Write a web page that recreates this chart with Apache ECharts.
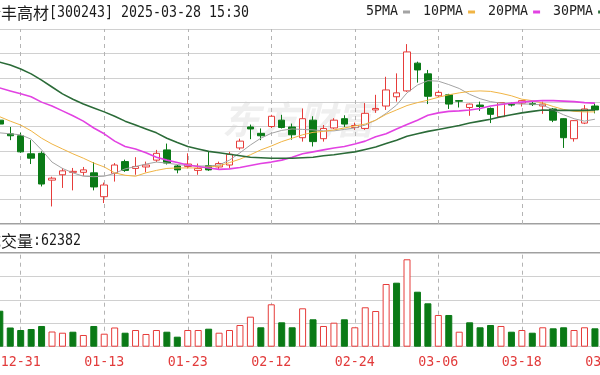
<!DOCTYPE html>
<html><head><meta charset="utf-8">
<script src="https://cdn.jsdelivr.net/npm/echarts@6/dist/echarts.min.js"></script>
<style>html,body{margin:0;padding:0;background:#fff;overflow:hidden}#c{width:600px;height:375px}</style>
</head><body><div id="c"></div>
<script>
const dates = ["12-27","12-30","12-31","01-02","01-03","01-06","01-07","01-08","01-09","01-10","01-13","01-14","01-15","01-16","01-17","01-20","01-21","01-22","01-23","01-24","01-27","02-05","02-06","02-07","02-10","02-11","02-12","02-13","02-14","02-17","02-18","02-19","02-20","02-21","02-24","02-25","02-26","02-27","02-28","03-03","03-04","03-05","03-06","03-07","03-10","03-11","03-12","03-13","03-14","03-17","03-18","03-19","03-20","03-21","03-24","03-25","03-26","03-27","03-28"];

// [open, close, low, high]
const candles = [
[11.13,11.05,10.99,11.20],[10.85,10.81,10.72,10.99],[10.81,10.48,10.46,10.87],[10.44,10.35,10.23,10.72],
[10.45,9.82,9.77,10.49],[9.90,9.94,9.36,9.97],[10.01,10.09,9.74,10.15],[10.06,10.08,9.69,10.15],
[10.06,10.11,9.99,10.17],[10.05,9.76,9.69,10.27],[9.56,9.80,9.43,9.85],[10.04,10.21,9.87,10.25],
[10.28,10.10,10.07,10.32],[10.14,10.18,10.01,10.37],[10.17,10.21,10.06,10.28],[10.31,10.45,10.27,10.52],
[10.52,10.25,10.22,10.65],[10.19,10.11,10.04,10.21],[10.18,10.23,10.14,10.45],[10.10,10.14,10.01,10.24],
[10.20,10.11,10.09,10.49],[10.17,10.24,10.11,10.28],[10.21,10.43,10.15,10.48],[10.56,10.70,10.52,10.75],
[10.99,10.95,10.74,11.04],[10.86,10.81,10.72,10.96],[11.00,11.21,10.97,11.24],[11.13,10.98,10.96,11.24],
[10.99,10.83,10.73,11.06],[10.77,11.16,10.69,11.37],[11.13,10.69,10.59,11.21],[10.75,10.96,10.69,11.03],
[10.97,11.13,10.95,11.17],[11.16,11.05,10.99,11.23],[10.98,11.02,10.93,11.08],[10.96,11.27,10.93,11.48],
[11.34,11.37,11.28,11.65],[11.42,11.75,11.34,12.02],[11.61,11.69,11.51,12.09],[11.73,12.53,11.71,12.69],
[12.30,12.16,11.90,12.33],[12.08,11.62,11.46,12.16],[11.63,11.70,11.60,11.74],[11.65,11.46,11.36,11.67],
[11.53,11.52,11.39,11.54],[11.39,11.46,11.22,11.47],[11.44,11.41,11.32,11.51],[11.37,11.25,11.07,11.39],
[11.20,11.49,11.19,11.50],[11.46,11.44,11.41,11.49],[11.48,11.53,11.41,11.54],[11.47,11.45,11.42,11.51],
[11.42,11.46,11.26,11.51],[11.36,11.13,11.09,11.38],[11.16,10.77,10.56,11.17],[10.75,11.12,10.69,11.13],
[11.07,11.36,11.05,11.44],[11.42,11.34,11.27,11.48]
];

const ma5 = [10.87,10.85,10.83,10.74,10.52,10.27,10.14,10.05,9.98,9.97,9.98,10.04,10.13,10.18,10.23,10.27,10.25,10.22,10.20,10.19,10.19,10.21,10.31,10.46,10.62,10.76,10.86,10.92,10.95,10.94,10.93,10.91,10.91,10.94,10.97,11.03,11.13,11.27,11.44,11.69,11.85,11.94,11.93,11.86,11.78,11.66,11.57,11.51,11.48,11.47,11.46,11.46,11.44,11.34,11.24,11.16,11.11,11.15];
const ma10 = [11.20,11.11,11.03,10.91,10.76,10.64,10.54,10.44,10.35,10.25,10.17,10.05,10.00,9.98,10.05,10.10,10.14,10.15,10.15,10.15,10.17,10.19,10.26,10.33,10.42,10.52,10.60,10.69,10.76,10.83,10.88,10.90,10.93,10.97,11.01,11.05,11.13,11.25,11.34,11.43,11.49,11.54,11.60,11.65,11.69,11.72,11.73,11.72,11.68,11.63,11.56,11.53,11.48,11.41,11.35,11.31,11.30,11.30];
const ma20 = [11.79,11.73,11.67,11.61,11.50,11.42,11.32,11.22,11.11,10.97,10.85,10.70,10.59,10.54,10.46,10.37,10.31,10.26,10.21,10.18,10.15,10.12,10.13,10.16,10.20,10.24,10.27,10.31,10.37,10.44,10.48,10.52,10.56,10.59,10.64,10.70,10.79,10.85,10.95,11.04,11.13,11.23,11.28,11.31,11.32,11.34,11.37,11.42,11.45,11.48,11.50,11.52,11.53,11.53,11.52,11.51,11.49,11.48];
const ma30 = [12.32,12.26,12.18,12.08,11.95,11.81,11.67,11.56,11.46,11.38,11.30,11.21,11.11,11.03,10.95,10.87,10.76,10.67,10.59,10.54,10.49,10.46,10.43,10.40,10.37,10.36,10.35,10.35,10.35,10.36,10.37,10.40,10.42,10.45,10.48,10.53,10.58,10.65,10.72,10.80,10.85,10.90,10.94,10.98,11.02,11.07,11.11,11.15,11.20,11.24,11.28,11.31,11.34,11.33,11.33,11.33,11.33,11.34];

const volumes = [122900,65600,57000,60400,70700,51900,47800,51200,40000,70700,
44400,65600,47800,57000,43400,57000,51200,34200,57000,57000,
61500,47800,57000,74100,102500,66300,144800,83300,66300,131100,
93600,70700,82000,93600,66300,134600,121900,214100,218600,298500,
187800,148200,108300,108300,51200,83300,66300,74100,70700,51200,
57000,47800,66300,62800,66300,57000,66300,62800,62382];
// 1 = red (up), 0 = green (down)
const volumeUp = [0,0,0,0,0,1,1,0,1,0, 1,1,0,1,1,1,0,0,1,1, 0,1,1,1,1,0,1,0,0,1, 0,1,1,0,1,1,1,1,0,1, 0,0,1,0,1,0,0,0,1,0, 1,0,1,0,0,1,1,0,0];

const legendNames = ['5PMA','10PMA','20PMA','30PMA'];
const titleCn = '瑞丰高材';
const titleRest = '[300243] 2025-03-28 15:30';
const volCn = '成交量';
const volRest = ':62382';
const watermark = '东方财富';

const RED = '#e63c3a', GREEN = '#0a7a16';
const MA_COLORS = ['#a3a3a3', '#f0b444', '#e242e2', '#2b6b38'];
const tickAt = i => (i - 2) % 8 === 0;
const MONO = '"DejaVu Sans Mono", monospace';
const CJK = '"Noto Sans CJK SC", sans-serif';

const chart = echarts.init(document.getElementById('c'), null, {renderer: 'canvas'});

const vLines = {
  silent: true, z: 1, symbol: ['none', 'none'], label: {show: false},
  lineStyle: {color: '#b4b4b4', type: [4, 4], width: 1},
  emphasis: {disabled: true},
  data: dates.filter((d, i) => tickAt(i)).map(d => ({xAxis: d}))
};

const maSeries = [ma5, ma10, ma20, ma30].map((d, k) => ({
  type: 'line', name: legendNames[k], xAxisIndex: 0, yAxisIndex: 0, data: d,
  symbol: 'none', showSymbol: false, smooth: false, z: 3,
  lineStyle: {width: k >= 2 ? 1.6 : 1, color: MA_COLORS[k]},
  itemStyle: {color: MA_COLORS[k]}, emphasis: {disabled: true},
  markLine: k === 3 ? vLines : undefined
}));

chart.setOption({
  animation: false,
  backgroundColor: '#ffffff',
  legend: {
    data: legendNames, left: 366, top: 4, width: 250, padding: 0, align: 'right',
    icon: 'rect', itemWidth: 7, itemHeight: 3, itemGap: 13,
    textStyle: {fontFamily: MONO, fontSize: 13.3, color: '#222', lineHeight: 16}
  },
  grid: [
    {left: -5.4, width: 616, top: 29, height: 195, outerBoundsMode: 'none', containLabel: false},
    {left: -5.4, width: 616, top: 253, height: 93.7, outerBoundsMode: 'none', containLabel: false}
  ],
  xAxis: [
    {type: 'category', gridIndex: 0, data: dates, boundaryGap: true,
     axisLine: {show: false}, axisTick: {show: false}, axisLabel: {show: false}, splitLine: {show: false}},
    {type: 'category', gridIndex: 1, data: dates, boundaryGap: true,
     axisLine: {show: false}, axisTick: {show: false},
     axisLabel: {show: true, interval: (i) => tickAt(i), color: '#e23b3b', fontFamily: MONO, fontSize: 13.3, margin: 9, hideOverlap: false},
     splitLine: {show: false}}
  ],
  yAxis: [
    {type: 'value', gridIndex: 0, min: 9, max: 13, interval: 0.5,
     axisLine: {show: false}, axisTick: {show: false}, axisLabel: {show: false},
     splitLine: {show: true, lineStyle: {color: '#d0d0d0', width: 1}}},
    {type: 'value', gridIndex: 1, min: 0, max: 320000, interval: 80000,
     axisLine: {show: false}, axisTick: {show: false}, axisLabel: {show: false},
     splitLine: {show: true, lineStyle: {color: '#d0d0d0', width: 1}}}
  ],
  series: [
    {type: 'candlestick', name: 'K', xAxisIndex: 0, yAxisIndex: 0, data: candles, barWidth: 7, z: 2,
     itemStyle: {color: '#ffffff', color0: GREEN, borderColor: RED, borderColor0: GREEN, borderWidth: 1},
     emphasis: {disabled: true}},
    ...maSeries,
    {type: 'bar', name: 'VOL', xAxisIndex: 1, yAxisIndex: 1, barWidth: 7, z: 2,
     data: volumes.map((v, i) => ({value: v, itemStyle: volumeUp[i]
       ? {color: '#ffffff', borderColor: RED, borderWidth: 1}
       : {color: GREEN, borderColor: GREEN, borderWidth: 1}})),
     emphasis: {disabled: true},
     markLine: vLines}
  ],
  graphic: [
    {type: 'text', x: 222, y: 120, z: -1, silent: true,
     style: {text: watermark, font: 'italic bold 38px ' + CJK, fill: '#efefef', verticalAlign: 'middle'}},
    {type: 'line', silent: true, shape: {x1: 0, y1: 29.5, x2: 600, y2: 29.5}, style: {stroke: '#aaaaaa', lineWidth: 1}},
    {type: 'line', silent: true, shape: {x1: 0, y1: 224, x2: 600, y2: 224}, style: {stroke: '#a0a0a0', lineWidth: 2}},
    {type: 'line', silent: true, shape: {x1: 0, y1: 253, x2: 600, y2: 253}, style: {stroke: '#a0a0a0', lineWidth: 2}},
    {type: 'text', x: -15, y: 12.5, silent: true,
     style: {text: titleCn, font: '16px ' + CJK, fill: '#1a1a1a', verticalAlign: 'middle'}},
    {type: 'text', x: 49, y: 12.5, scaleX: 0.83, silent: true,
     style: {text: titleRest, font: '16px ' + MONO, fill: '#1a1a1a', verticalAlign: 'middle'}},
    {type: 'text', x: -15, y: 240.5, silent: true,
     style: {text: volCn, font: '16px ' + CJK, fill: '#1a1a1a', verticalAlign: 'middle'}},
    {type: 'text', x: 33, y: 240.5, scaleX: 0.83, silent: true,
     style: {text: volRest, font: '16px ' + MONO, fill: '#1a1a1a', verticalAlign: 'middle'}}
  ]
});
</script></body></html>
